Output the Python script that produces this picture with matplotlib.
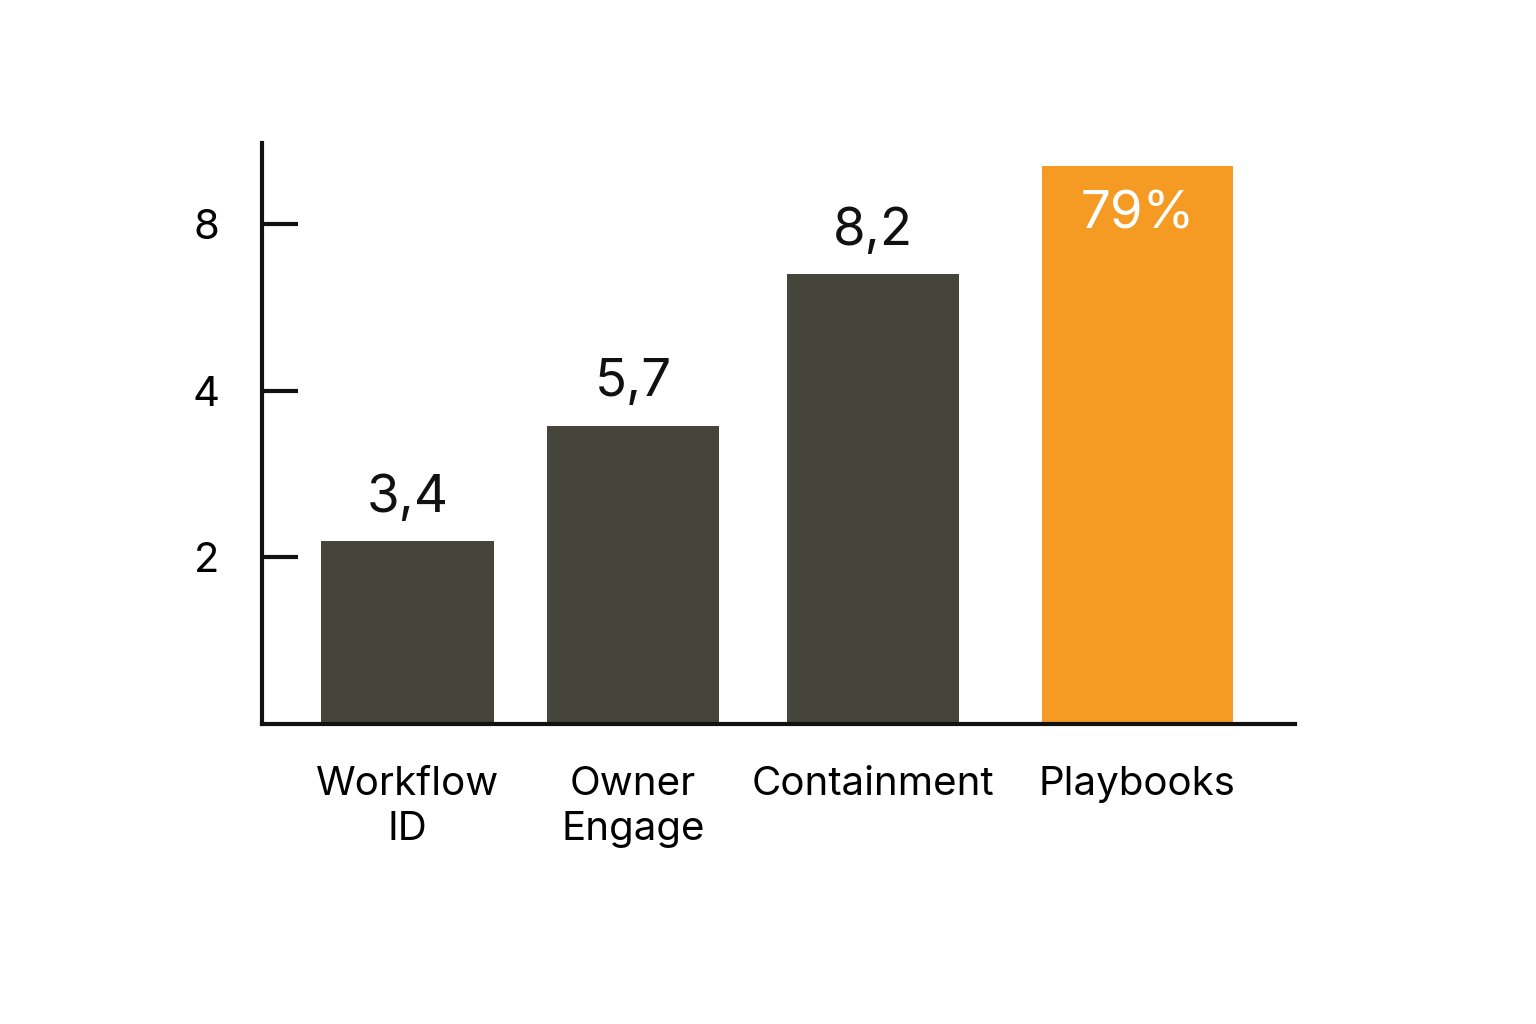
import matplotlib
matplotlib.use("Agg")
import matplotlib.pyplot as plt

plt.rcParams["font.family"] = ["Inter", "DejaVu Sans"]

categories = ["Workflow\nID", "Owner\nEngage", "Containment", "Playbooks"]
bar_tops = [2.14, 3.46, 6.5, 10.2]
value_labels = ["3,4", "5,7", "8,2", "79%"]
yticks = [2, 4, 8]

positions = [0, 0.93, 1.92, 3.01]
widths = [0.71, 0.71, 0.71, 0.79]
colors = ["#45453c", "#45453c", "#45453c", "#f59a23"]

fig = plt.figure(figsize=(15.36, 10.24), dpi=100)
ax = fig.add_axes([0.1706, 0.293, 0.6725, 0.567])
ax.set_yscale("log", base=2)
ax.set_ylim(1, 11.2)
ax.set_xlim(-0.60, 3.66)
ax.bar(positions, [t - 1 for t in bar_tops], width=widths, color=colors, bottom=1)
for sp in ["top", "right"]:
    ax.spines[sp].set_visible(False)
for sp in ["left", "bottom"]:
    ax.spines[sp].set_linewidth(3)
    ax.spines[sp].set_color("#111111")
ax.set_yticks(yticks)
ax.set_yticklabels([str(t) for t in yticks])
ax.minorticks_off()
ax.tick_params(axis="y", direction="in", length=26, width=3, labelsize=30, pad=40, color="#111111")
ax.set_xticks(positions)
ax.set_xticklabels(categories, fontsize=29, linespacing=1.3)
ax.tick_params(axis="x", length=0, pad=30)
for lbl in ax.get_yticklabels():
    lbl.set_horizontalalignment("center")
for i, (x, h, t) in enumerate(zip(positions, bar_tops, value_labels)):
    if i == 3:
        ax.text(x, 8.3, t, ha="center", va="center", fontsize=38, color="white")
    else:
        ax.text(x, h * 1.08, t, ha="center", va="bottom", fontsize=38, color="#111111")
fig.savefig("out.png", dpi=100)
